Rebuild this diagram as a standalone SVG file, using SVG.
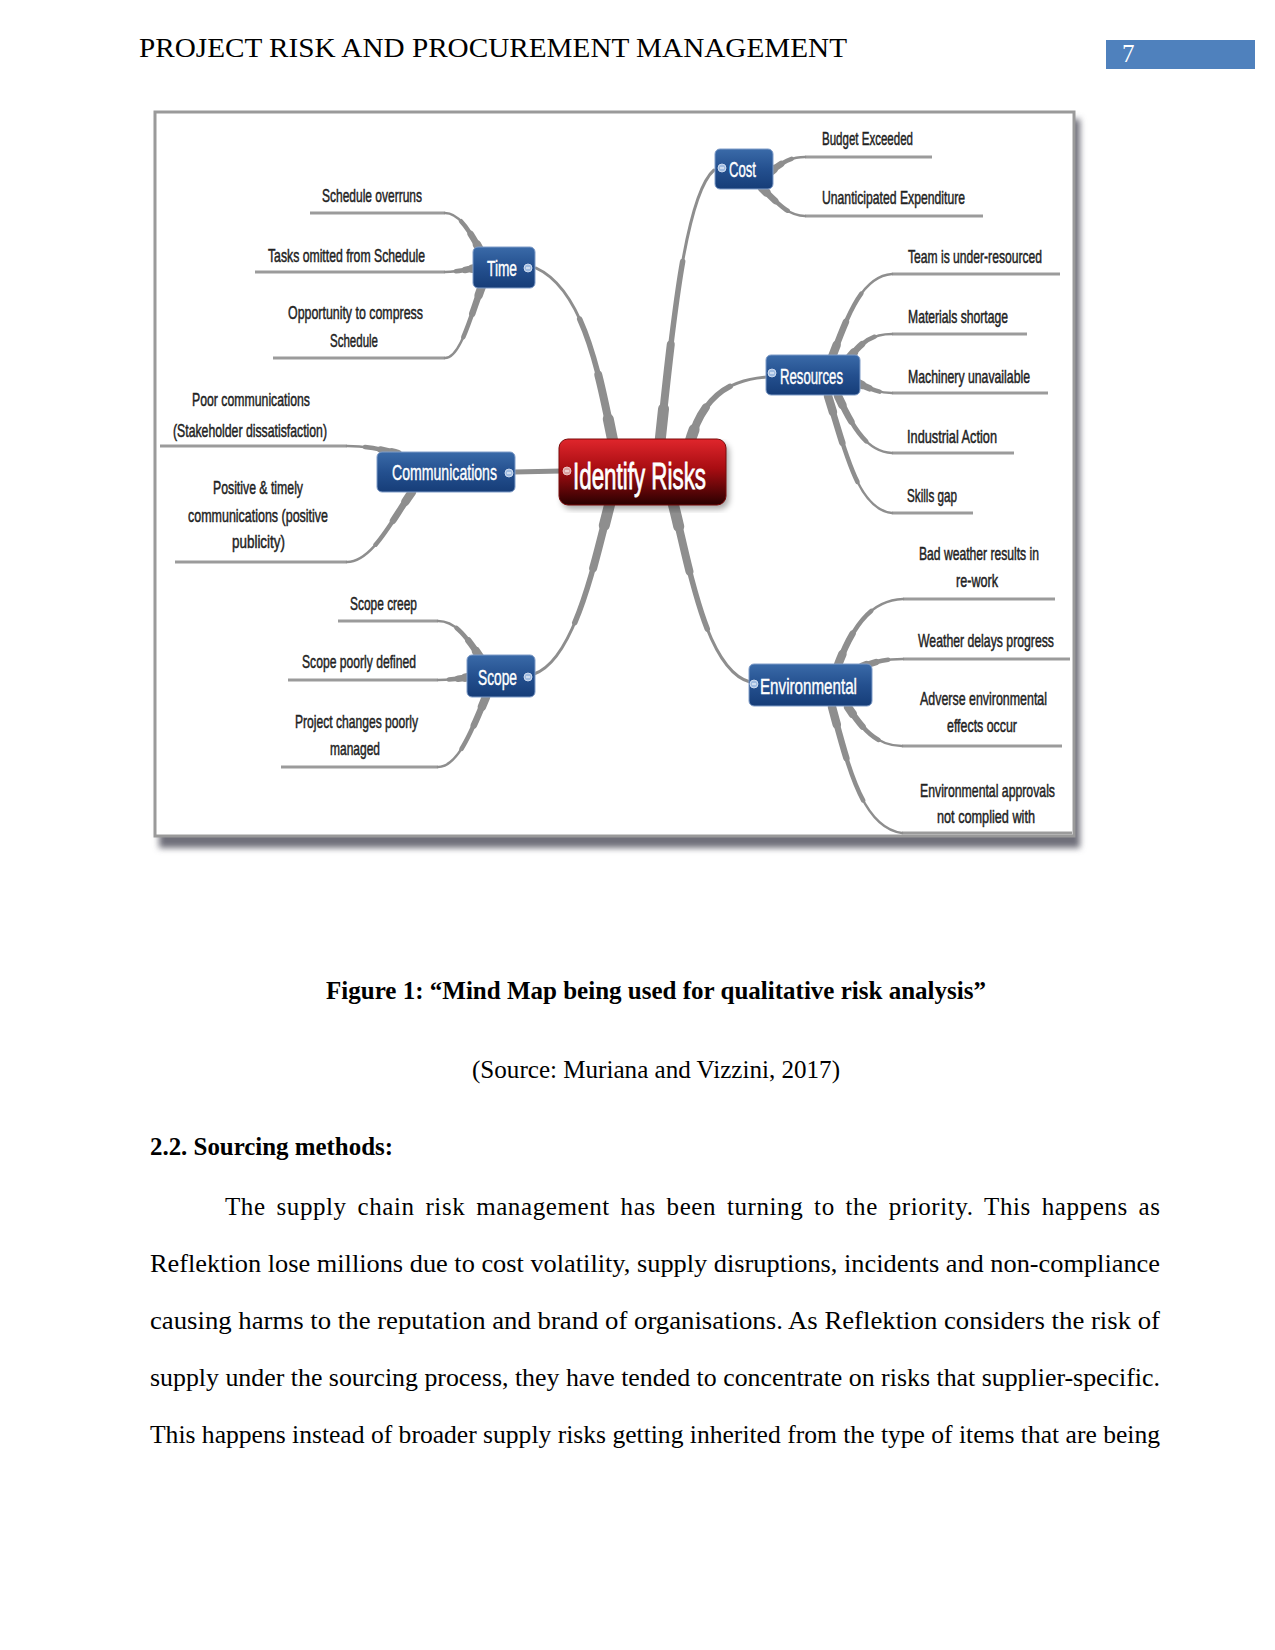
<svg xmlns="http://www.w3.org/2000/svg" xmlns:xlink="http://www.w3.org/1999/xlink" width="1275" height="1650" viewBox="0 0 1275 1650">
<style>
.serif{font-family:"Liberation Serif","Times New Roman",serif;fill:#000}
.mm{font-family:"Liberation Sans Narrow","Liberation Sans",Arial,sans-serif}
.leaf{font-size:19px;fill:#222;stroke:#222;stroke-width:0.5}
.ntext{font-size:22px;fill:#fff;stroke:#fff;stroke-width:0.4}
.ctext{font-size:37px;fill:#fff;stroke:#fff;stroke-width:0.8}
.node{fill:url(#blue);stroke:#7f9cc8;stroke-width:1}
.ll{stroke:#9b9b9b;stroke-width:3;fill:none;stroke-linecap:butt}
.br{fill:none;stroke:#8e8e8e;stroke-linecap:round}
.m0{stroke-width:3}
.m1{stroke-width:5.5;stroke-dasharray:65 300}
.m2{stroke-width:8;stroke-dasharray:35 300}
.m3{stroke-width:11;stroke-dasharray:12 300}
.k0{stroke-width:2.5}
.k1{stroke-width:4.5;stroke-dasharray:65 300}
.k2{stroke-width:6.5;stroke-dasharray:35 300}
.k3{stroke-width:8.5;stroke-dasharray:12 300}
.ico{fill:#9fbbe0;stroke:#dfe9f6;stroke-width:0.8}
.icl{stroke:#ffffff;stroke-width:1}
</style>
<defs>
<linearGradient id="blue" x1="0" y1="0" x2="0" y2="1">
<stop offset="0" stop-color="#3a6aa8"/>
<stop offset="0.5" stop-color="#24508f"/>
<stop offset="1" stop-color="#163d78"/>
</linearGradient>
<linearGradient id="red" x1="0" y1="0" x2="0" y2="1">
<stop offset="0" stop-color="#e0262c"/>
<stop offset="0.45" stop-color="#a80d12"/>
<stop offset="1" stop-color="#2a0000"/>
</linearGradient>
<filter id="shadow" x="-5%" y="-5%" width="110%" height="110%">
<feGaussianBlur stdDeviation="3"/>
</filter>
<path id="pTime" pathLength="100" d="M613,442 C600,380 585,290 536,268"/>
<path id="pCost" pathLength="100" d="M660,442 C672,330 685,195 714,170"/>
<path id="pRes" pathLength="100" d="M690,442 C702,400 725,380 767,377"/>
<path id="pScope" pathLength="100" d="M610,503 C595,560 575,660 534,674"/>
<path id="pEnv" pathLength="100" d="M673,503 C688,560 705,670 750,682"/>
<path id="t1" pathLength="100" d="M480,250 C468,228 458,213 445,213"/>
<path id="t2" pathLength="100" d="M476,268 C465,270 455,272 445,272"/>
<path id="t3" pathLength="100" d="M482,286 C470,318 460,358 445,358"/>
<path id="c1" pathLength="100" d="M770,172 C785,160 793,157 805,157"/>
<path id="c2" pathLength="100" d="M762,188 C780,206 790,216 805,216"/>
<path id="r1" pathLength="100" d="M832,357 C848,315 862,276 892,274"/>
<path id="r2" pathLength="100" d="M850,357 C862,342 872,334 892,334"/>
<path id="r3" pathLength="100" d="M858,383 C872,390 880,393 892,393"/>
<path id="r4" pathLength="100" d="M838,396 C852,425 866,452 892,453"/>
<path id="r5" pathLength="100" d="M828,396 C845,450 858,510 892,513"/>
<path id="m1" pathLength="100" d="M398,454 C378,448 362,446 347,446"/>
<path id="m2" pathLength="100" d="M412,492 C392,520 372,562 347,562"/>
<path id="s1" pathLength="100" d="M480,657 C466,636 455,621 438,621"/>
<path id="s2" pathLength="100" d="M469,677 C458,679 448,680 438,680"/>
<path id="s3" pathLength="100" d="M486,697 C472,730 458,767 438,767"/>
<path id="e1" pathLength="100" d="M838,665 C852,628 870,600 903,599"/>
<path id="e2" pathLength="100" d="M862,667 C876,661 886,659 903,659"/>
<path id="e3" pathLength="100" d="M848,707 C862,728 876,746 902,746"/>
<path id="e4" pathLength="100" d="M832,707 C848,765 862,828 902,833"/>
</defs>

<rect width="1275" height="1650" fill="#ffffff"/>

<g id="header">
<text class="serif" x="139" y="57" font-size="28" textLength="708" lengthAdjust="spacingAndGlyphs">PROJECT RISK AND PROCUREMENT MANAGEMENT</text>
<rect x="1106" y="40" width="149" height="29" fill="#4f81bd"/>
<text x="1122" y="62" font-family="Liberation Serif,serif" font-size="25" fill="#ffffff">7</text>
</g>

<g id="figure-frame">
<rect x="159" y="119" width="921" height="729" fill="#6f6f7a" filter="url(#shadow)"/>
<rect x="155" y="112" width="919" height="724" fill="#ffffff" stroke="#9a9a9a" stroke-width="3"/>
</g>

<g id="leaf-lines">
<line class="ll" x1="310" y1="213" x2="445" y2="213"/>
<line class="ll" x1="255" y1="272" x2="445" y2="272"/>
<line class="ll" x1="273" y1="358" x2="445" y2="358"/>
<line class="ll" x1="805" y1="157" x2="932" y2="157"/>
<line class="ll" x1="805" y1="216" x2="983" y2="216"/>
<line class="ll" x1="892" y1="274" x2="1060" y2="274"/>
<line class="ll" x1="892" y1="334" x2="1027" y2="334"/>
<line class="ll" x1="892" y1="393" x2="1048" y2="393"/>
<line class="ll" x1="892" y1="453" x2="1014" y2="453"/>
<line class="ll" x1="892" y1="513" x2="973" y2="513"/>
<line class="ll" x1="160" y1="446" x2="347" y2="446"/>
<line class="ll" x1="175" y1="562" x2="347" y2="562"/>
<line class="ll" x1="338" y1="621" x2="438" y2="621"/>
<line class="ll" x1="288" y1="680" x2="438" y2="680"/>
<line class="ll" x1="281" y1="767" x2="438" y2="767"/>
<line class="ll" x1="903" y1="599" x2="1055" y2="599"/>
<line class="ll" x1="903" y1="659" x2="1070" y2="659"/>
<line class="ll" x1="902" y1="746" x2="1062" y2="746"/>
<line class="ll" x1="902" y1="833" x2="1072" y2="833"/>
</g>

<g id="connectors">
<use href="#pTime" class="br m0"/><use href="#pTime" class="br m1"/><use href="#pTime" class="br m2"/><use href="#pTime" class="br m3"/>
<use href="#pCost" class="br m0"/><use href="#pCost" class="br m1"/><use href="#pCost" class="br m2"/><use href="#pCost" class="br m3"/>
<use href="#pRes" class="br m0"/><use href="#pRes" class="br m1"/><use href="#pRes" class="br m2"/><use href="#pRes" class="br m3"/>
<use href="#pScope" class="br m0"/><use href="#pScope" class="br m1"/><use href="#pScope" class="br m2"/><use href="#pScope" class="br m3"/>
<use href="#pEnv" class="br m0"/><use href="#pEnv" class="br m1"/><use href="#pEnv" class="br m2"/><use href="#pEnv" class="br m3"/>
<path class="br" stroke-width="5" d="M562,471 L514,472"/>
<use href="#t1" class="br k0"/><use href="#t1" class="br k1"/><use href="#t1" class="br k2"/><use href="#t1" class="br k3"/>
<use href="#t2" class="br k0"/><use href="#t2" class="br k1"/><use href="#t2" class="br k2"/><use href="#t2" class="br k3"/>
<use href="#t3" class="br k0"/><use href="#t3" class="br k1"/><use href="#t3" class="br k2"/><use href="#t3" class="br k3"/>
<use href="#c1" class="br k0"/><use href="#c1" class="br k1"/><use href="#c1" class="br k2"/><use href="#c1" class="br k3"/>
<use href="#c2" class="br k0"/><use href="#c2" class="br k1"/><use href="#c2" class="br k2"/><use href="#c2" class="br k3"/>
<use href="#r1" class="br k0"/><use href="#r1" class="br k1"/><use href="#r1" class="br k2"/><use href="#r1" class="br k3"/>
<use href="#r2" class="br k0"/><use href="#r2" class="br k1"/><use href="#r2" class="br k2"/><use href="#r2" class="br k3"/>
<use href="#r3" class="br k0"/><use href="#r3" class="br k1"/><use href="#r3" class="br k2"/><use href="#r3" class="br k3"/>
<use href="#r4" class="br k0"/><use href="#r4" class="br k1"/><use href="#r4" class="br k2"/><use href="#r4" class="br k3"/>
<use href="#r5" class="br k0"/><use href="#r5" class="br k1"/><use href="#r5" class="br k2"/><use href="#r5" class="br k3"/>
<use href="#m1" class="br k0"/><use href="#m1" class="br k1"/><use href="#m1" class="br k2"/><use href="#m1" class="br k3"/>
<use href="#m2" class="br k0"/><use href="#m2" class="br k1"/><use href="#m2" class="br k2"/><use href="#m2" class="br k3"/>
<use href="#s1" class="br k0"/><use href="#s1" class="br k1"/><use href="#s1" class="br k2"/><use href="#s1" class="br k3"/>
<use href="#s2" class="br k0"/><use href="#s2" class="br k1"/><use href="#s2" class="br k2"/><use href="#s2" class="br k3"/>
<use href="#s3" class="br k0"/><use href="#s3" class="br k1"/><use href="#s3" class="br k2"/><use href="#s3" class="br k3"/>
<use href="#e1" class="br k0"/><use href="#e1" class="br k1"/><use href="#e1" class="br k2"/><use href="#e1" class="br k3"/>
<use href="#e2" class="br k0"/><use href="#e2" class="br k1"/><use href="#e2" class="br k2"/><use href="#e2" class="br k3"/>
<use href="#e3" class="br k0"/><use href="#e3" class="br k1"/><use href="#e3" class="br k2"/><use href="#e3" class="br k3"/>
<use href="#e4" class="br k0"/><use href="#e4" class="br k1"/><use href="#e4" class="br k2"/><use href="#e4" class="br k3"/>
</g>

<g id="node-identify-risks">
<rect x="562" y="443" width="167" height="66" rx="9" fill="#000" opacity="0.35" filter="url(#shadow)"/>
<rect x="559" y="439" width="167" height="66" rx="9" fill="url(#red)" stroke="#7a0a0a" stroke-width="1"/>
<circle cx="567" cy="471" r="4" fill="#d9a0a0" stroke="#f3d6d6" stroke-width="0.8"/>
<line x1="565" y1="471" x2="569" y2="471" stroke="#fff" stroke-width="1"/>
<text class="mm ctext" x="573" y="489" textLength="133" lengthAdjust="spacingAndGlyphs">Identify Risks</text>
</g>

<g id="node-time">
<rect class="node" x="473" y="247" width="62" height="41" rx="5"/>
<text class="mm ntext" x="487" y="276" textLength="30" lengthAdjust="spacingAndGlyphs">Time</text>
<circle class="ico" cx="528" cy="268" r="4"/><line class="icl" x1="526" y1="268" x2="530" y2="268"/>
</g>

<g id="node-cost">
<rect class="node" x="715" y="149" width="58" height="40" rx="5"/>
<circle class="ico" cx="722" cy="168" r="4"/><line class="icl" x1="720" y1="168" x2="724" y2="168"/>
<text class="mm ntext" x="729" y="177" textLength="27" lengthAdjust="spacingAndGlyphs">Cost</text>
</g>

<g id="node-resources">
<rect class="node" x="766" y="355" width="94" height="40" rx="5"/>
<circle class="ico" cx="772" cy="373" r="4"/><line class="icl" x1="770" y1="373" x2="774" y2="373"/>
<text class="mm ntext" x="780" y="384" textLength="63" lengthAdjust="spacingAndGlyphs">Resources</text>
</g>

<g id="node-communications">
<rect class="node" x="377" y="452" width="138" height="40" rx="5"/>
<text class="mm ntext" x="392" y="480" textLength="105" lengthAdjust="spacingAndGlyphs">Communications</text>
<circle class="ico" cx="509" cy="473" r="4"/><line class="icl" x1="507" y1="473" x2="511" y2="473"/>
</g>

<g id="node-scope">
<rect class="node" x="467" y="655" width="68" height="42" rx="5"/>
<text class="mm ntext" x="478" y="685" textLength="39" lengthAdjust="spacingAndGlyphs">Scope</text>
<circle class="ico" cx="528" cy="677" r="4"/><line class="icl" x1="526" y1="677" x2="530" y2="677"/>
</g>

<g id="node-environmental">
<rect class="node" x="749" y="664" width="123" height="42" rx="5"/>
<circle class="ico" cx="754" cy="684" r="4"/><line class="icl" x1="752" y1="684" x2="756" y2="684"/>
<text class="mm ntext" x="760" y="694" textLength="97" lengthAdjust="spacingAndGlyphs">Environmental</text>
</g>

<g id="leaves-time">
<text class="mm leaf" x="322" y="202" textLength="100" lengthAdjust="spacingAndGlyphs">Schedule overruns</text>
<text class="mm leaf" x="268" y="262" textLength="157" lengthAdjust="spacingAndGlyphs">Tasks omitted from Schedule</text>
<text class="mm leaf" x="288" y="319" textLength="135" lengthAdjust="spacingAndGlyphs">Opportunity to compress</text>
<text class="mm leaf" x="330" y="347" textLength="48" lengthAdjust="spacingAndGlyphs">Schedule</text>
</g>

<g id="leaves-cost">
<text class="mm leaf" x="822" y="145" textLength="91" lengthAdjust="spacingAndGlyphs">Budget Exceeded</text>
<text class="mm leaf" x="822" y="204" textLength="143" lengthAdjust="spacingAndGlyphs">Unanticipated Expenditure</text>
</g>

<g id="leaves-resources">
<text class="mm leaf" x="908" y="263" textLength="134" lengthAdjust="spacingAndGlyphs">Team is under-resourced</text>
<text class="mm leaf" x="908" y="323" textLength="100" lengthAdjust="spacingAndGlyphs">Materials shortage</text>
<text class="mm leaf" x="908" y="383" textLength="122" lengthAdjust="spacingAndGlyphs">Machinery unavailable</text>
<text class="mm leaf" x="907" y="443" textLength="90" lengthAdjust="spacingAndGlyphs">Industrial Action</text>
<text class="mm leaf" x="907" y="502" textLength="50" lengthAdjust="spacingAndGlyphs">Skills gap</text>
</g>

<g id="leaves-communications">
<text class="mm leaf" x="192" y="406" textLength="118" lengthAdjust="spacingAndGlyphs">Poor communications</text>
<text class="mm leaf" x="173" y="437" textLength="154" lengthAdjust="spacingAndGlyphs">(Stakeholder dissatisfaction)</text>
<text class="mm leaf" x="213" y="494" textLength="90" lengthAdjust="spacingAndGlyphs">Positive &amp; timely</text>
<text class="mm leaf" x="188" y="522" textLength="140" lengthAdjust="spacingAndGlyphs">communications (positive</text>
<text class="mm leaf" x="232" y="548" textLength="53" lengthAdjust="spacingAndGlyphs">publicity)</text>
</g>

<g id="leaves-scope">
<text class="mm leaf" x="350" y="610" textLength="67" lengthAdjust="spacingAndGlyphs">Scope creep</text>
<text class="mm leaf" x="302" y="668" textLength="114" lengthAdjust="spacingAndGlyphs">Scope poorly defined</text>
<text class="mm leaf" x="295" y="728" textLength="123" lengthAdjust="spacingAndGlyphs">Project changes poorly</text>
<text class="mm leaf" x="330" y="755" textLength="50" lengthAdjust="spacingAndGlyphs">managed</text>
</g>

<g id="leaves-environmental">
<text class="mm leaf" x="919" y="560" textLength="120" lengthAdjust="spacingAndGlyphs">Bad weather results in</text>
<text class="mm leaf" x="956" y="587" textLength="42" lengthAdjust="spacingAndGlyphs">re-work</text>
<text class="mm leaf" x="918" y="647" textLength="136" lengthAdjust="spacingAndGlyphs">Weather delays progress</text>
<text class="mm leaf" x="920" y="705" textLength="127" lengthAdjust="spacingAndGlyphs">Adverse environmental</text>
<text class="mm leaf" x="947" y="732" textLength="70" lengthAdjust="spacingAndGlyphs">effects occur</text>
<text class="mm leaf" x="920" y="797" textLength="135" lengthAdjust="spacingAndGlyphs">Environmental approvals</text>
<text class="mm leaf" x="937" y="823" textLength="98" lengthAdjust="spacingAndGlyphs">not complied with</text>
</g>

<g id="body-text">
<text class="serif" x="326" y="999" font-size="25" font-weight="bold" textLength="660" lengthAdjust="spacingAndGlyphs">Figure 1: “Mind Map being used for qualitative risk analysis”</text>
<text class="serif" x="472" y="1078" font-size="25" textLength="368" lengthAdjust="spacingAndGlyphs">(Source: Muriana and Vizzini, 2017)</text>
<text class="serif" x="150" y="1155" font-size="25" font-weight="bold" textLength="243" lengthAdjust="spacingAndGlyphs">2.2. Sourcing methods:</text>
<text class="serif" x="225" y="1215" font-size="25" word-spacing="4" textLength="935" lengthAdjust="spacing">The supply chain risk management has been turning to the priority. This happens as</text>
<text class="serif" x="150" y="1272" font-size="25" textLength="1010" lengthAdjust="spacingAndGlyphs">Reflektion lose millions due to cost volatility, supply disruptions, incidents and non-compliance</text>
<text class="serif" x="150" y="1329" font-size="25" textLength="1010" lengthAdjust="spacingAndGlyphs">causing harms to the reputation and brand of organisations. As Reflektion considers the risk of</text>
<text class="serif" x="150" y="1386" font-size="25" textLength="1010" lengthAdjust="spacingAndGlyphs">supply under the sourcing process, they have tended to concentrate on risks that supplier-specific.</text>
<text class="serif" x="150" y="1443" font-size="25" textLength="1010" lengthAdjust="spacingAndGlyphs">This happens instead of broader supply risks getting inherited from the type of items that are being</text>
</g>
</svg>
